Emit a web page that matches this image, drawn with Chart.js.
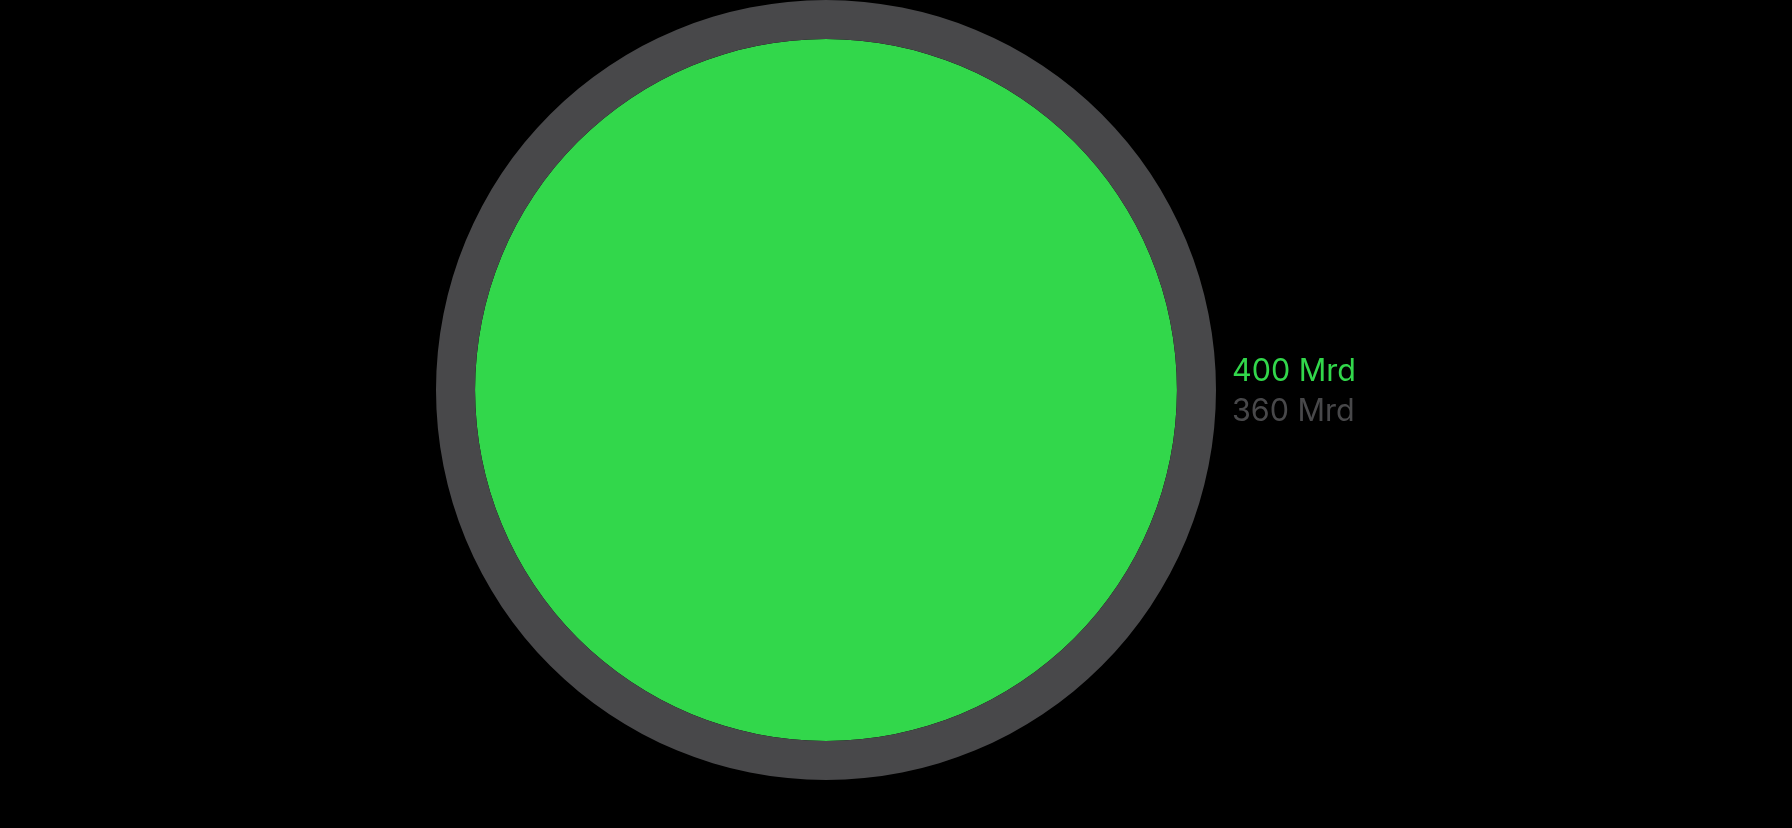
<!DOCTYPE html>
<html>
<head>
<meta charset="utf-8">
<script src="https://cdn.jsdelivr.net/npm/chart.js@4/dist/chart.umd.min.js"></script>
<style>
  html, body { margin: 0; padding: 0; background: #000; }
  #wrap { width: 1792px; height: 828px; }
</style>
</head>
<body>
<div id="wrap"><canvas id="c" width="1792" height="828"></canvas></div>
<script>
// Data
const seriesNames = ['Gesamt', 'Wert'];
const seriesValues = [360, 400];
const valueUnit = ' Mrd';
const seriesColors = ['#48484a', '#32d74b'];

// Labels listed top to bottom: green value first, then gray
const labelOrder = [1, 0];

const labelPlugin = {
  id: 'valueLabels',
  afterDraw(chart) {
    const meta = chart.getDatasetMeta(0);
    const arc = meta.data[0];
    if (!arc) return;
    const cx = arc.x, cy = arc.y, r = arc.outerRadius;
    const ctx = chart.ctx;
    ctx.save();
    ctx.font = '30.5px Inter, "Noto Sans", sans-serif';
    ctx.textAlign = 'left';
    ctx.textBaseline = 'alphabetic';
    const x = cx + r + 16;
    const baselines = [cy - 9.5, cy + 30.5];
    labelOrder.forEach((idx, i) => {
      ctx.fillStyle = seriesColors[idx];
      ctx.fillText(seriesValues[idx] + valueUnit, x, baselines[i]);
    });
    ctx.restore();
  }
};

new Chart(document.getElementById('c'), {
  type: 'doughnut',
  data: {
    labels: [''],
    datasets: [
      { label: seriesNames[0], data: [seriesValues[0]], backgroundColor: seriesColors[0], borderWidth: 0, weight: 39 },
      { label: seriesNames[1], data: [seriesValues[1]], backgroundColor: seriesColors[1], borderWidth: 0, weight: 350.5 }
    ]
  },
  options: {
    responsive: false,
    animation: false,
    cutout: 0,
    layout: { padding: { top: 0, bottom: 48, left: 0, right: 140 } },
    plugins: { legend: { display: false }, tooltip: { enabled: false } }
  },
  plugins: [labelPlugin]
});
</script>
</body>
</html>
